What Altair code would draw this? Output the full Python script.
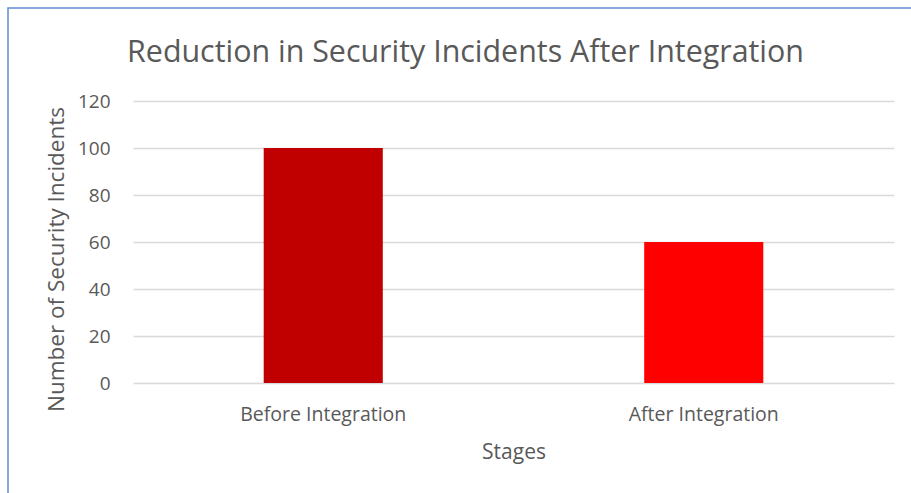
import altair as alt
import pandas as pd

stages = ["Before Integration", "After Integration"]
incidents = [100, 60]
colors = ["#C00000", "#FF0000"]
y_ticks = [0, 20, 40, 60, 80, 100, 120]

df = pd.DataFrame({"Stage": stages, "Incidents": incidents, "Color": colors})

FONT = "Open Sans"
TXT = "#595959"

bars = alt.Chart(df).mark_bar().encode(
    x=alt.X("Stage:N", sort=stages,
            scale=alt.Scale(paddingInner=0.687, paddingOuter=0.3435),
            axis=alt.Axis(title="Stages", labelAngle=0, domain=False, ticks=False, tickSize=0,
                          labelPadding=37, labelBaseline="alphabetic",
                          labelFontSize=19.5, labelColor=TXT, labelFont=FONT,
                          titleFontSize=21, titleColor=TXT, titleFont=FONT, titleFontWeight="normal",
                          titleBaseline="alphabetic", titleY=75)),
    y=alt.Y("Incidents:Q", scale=alt.Scale(domain=[0, 120]),
            axis=alt.Axis(title="Number of Security Incidents", values=y_ticks, domain=False,
                          ticks=False, tickSize=0, labelPadding=23,
                          labelFontSize=19, labelColor=TXT, labelFont=FONT,
                          gridColor="#D9D9D9", gridWidth=1.3,
                          titleFontSize=22.5, titleColor=TXT, titleFont=FONT, titleFontWeight="normal",
                          titleBaseline="alphabetic", titleX=-70, titleY=158, titleAngle=270)),
    color=alt.Color("Color:N", scale=None),
)

border = alt.Chart(pd.DataFrame({"a": [0]})).mark_rect(
    fill=None, stroke="#5E8DD2", strokeWidth=1.5
).encode(x=alt.value(-125), y=alt.value(-93), x2=alt.value(900), y2=alt.value(500))

chart = alt.layer(border, bars).properties(
    width=761, height=282,
    background="white",
    title=alt.TitleParams("Reduction in Security Incidents After Integration",
                          fontSize=30.4, color=TXT, font=FONT, fontWeight="normal",
                          anchor="middle", dx=-48, dy=85, baseline="alphabetic", offset=0),
    autosize=alt.AutoSizeParams(type="none"),
    padding={"left": 133, "top": 101, "right": 17, "bottom": 110},
).configure_view(stroke="transparent", strokeWidth=0)

chart.save("out.html", embed_options={"renderer": "svg", "actions": False})
